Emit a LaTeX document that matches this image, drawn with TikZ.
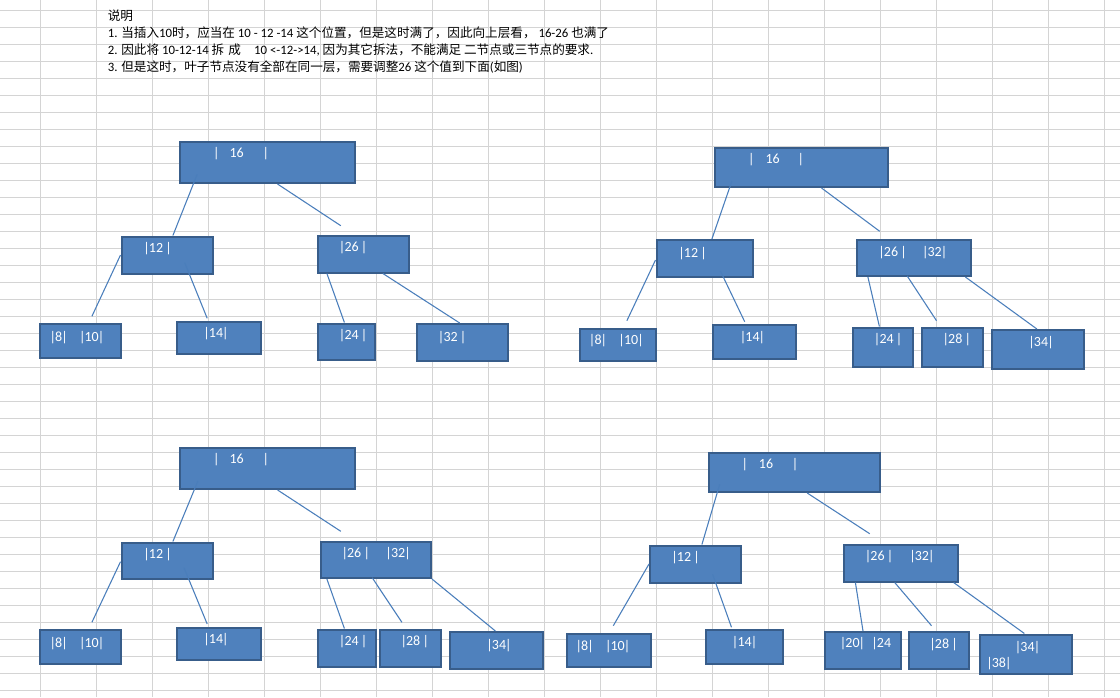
\documentclass[tikz,border=0pt]{standalone}
\usepackage{fontspec}
\setmainfont{Carlito}
\newfontfamily\zhfont[Scale=0.984]{Noto Sans CJK SC}
\newfontfamily\zhtitle{Noto Sans CJK SC}
\newcommand\zh[1]{{\zhfont #1}}
\newcommand\vb{\makebox[3.5pt]{|}}
\usetikzlibrary{calc,fit}
\definecolor{gridc}{HTML}{D4D4D4}
\definecolor{boxfill}{HTML}{4F81BD}
\definecolor{boxline}{HTML}{385D8A}
\definecolor{connc}{HTML}{4A7EBB}
\tikzset{
  box/.style={draw=boxline, fill=boxfill, line width=1.5pt, inner sep=0pt, rectangle},
  conn/.style={draw=connc, line width=0.8pt},
  gridline/.style={draw=gridc, line width=0.75pt},
  val/.style={anchor=base west, inner sep=0pt, text=white, font=\fontsize{10.5}{12}\selectfont},
  hdr/.style={anchor=base west, inner sep=0pt, text=black, font=\fontsize{9.6}{12}\selectfont},
}
\newcommand\conn[4]{\draw[conn] ($(#1)+(#2)$) -- ($(#3)+(#4)$);}
\begin{document}
\begin{tikzpicture}[x=0.75pt, y=-0.75pt]
\fill[white] (0,0) rectangle (1120,697);
\useasboundingbox (0,0) rectangle (1120,697);
% grid
\foreach \k in {0,...,19} \draw[gridline] (40.7+56*\k,0) -- (40.7+56*\k,697);
\foreach \k in {0,...,40} \draw[gridline] (0,10+17.02*\k) -- (1120,10+17.02*\k);

% header
\node[hdr] (h0) at (107.5,20.5) {\zhtitle\fontsize{9.5}{11}\selectfont 说明};
\node[hdr] (h1) at (107.5,37.5) {1. \zh{当插入}10\zh{时，应当在} 10 - 12 -14 \zh{这个位置，但是这时满了，因此向上层看，} 16-26 \zh{也满了}};
\node[hdr] (h2) at (107.5,54.5) {2. \zh{因此将} 10-12-14 \zh{拆}\hspace{3pt}\zh{成}\hspace{10pt}10 <-12->14, \zh{因为其它拆法，不能满足} \zh{二节点或三节点的要求}.};
\node[hdr] (h3) at (107.5,71.5) {3. \zh{但是这时，叶子节点没有全部在同一层，需要调整}26 \zh{这个值到下面}(\zh{如图})};

% ---------------- tree 1 (top left)
\node[box, fit={(179.5,141.5) (354.5,183)}] (t1r) {};
\node[box, fit={(121.5,236.5) (212.5,273.5)}] (t1a) {};
\node[box, fit={(317.5,235.5) (408.5,272.5)}] (t1b) {};
\node[box, fit={(40,324) (121,357.5)}] (t1c) {};
\node[box, fit={(176.5,321.5) (260.5,354)}] (t1d) {};
\node[box, fit={(317.5,323.5) (375,360)}] (t1e) {};
\node[box, fit={(416.5,324) (508,361)}] (t1f) {};
\conn{t1r.south west}{18.7,-9.7}{t1a.north west}{52.4,0}
\conn{t1r.south west}{99,0}{t1b.north west}{24.3,-8.8}
\conn{t1a.north west}{0,19.5}{t1c.north west}{52.9,-6.7}
\conn{t1a.south west}{64.2,-11.8}{t1d.north west}{31.7,-2.2}
\conn{t1b.south west}{10.4,0}{t1e.north west}{27.9,0}
\conn{t1b.south west}{66.4,0}{t1f.north west}{44.2,0}
\node[val] (v1r) at (213.65,157.8) {\vb\hspace{8.3pt}16\hspace{14.7pt}\vb};
\node[val] (v1a) at (144,252.8) {\vb12 \vb};
\node[val] (v1b) at (339.6,251.8) {\vb26 \vb};
\node[val] (v1c) at (50.2,341.8) {\vb8\vb\hspace{9.8pt}\vb10\vb};
\node[val] (v1d) at (204,337.8) {\vb14\vb};
\node[val] (v1e) at (339.6,339.5) {\vb24 \vb};
\node[val] (v1f) at (438.6,341.2) {\vb32 \vb};

% ---------------- tree 2 (top right)
\node[box, fit={(714.5,147.5) (888,187)}] (t2r) {};
\node[box, fit={(656.5,240) (753,277)}] (t2a) {};
\node[box, fit={(856.5,239.5) (971,276)}] (t2b) {};
\node[box, fit={(579.5,328.5) (656,361)}] (t2c) {};
\node[box, fit={(712.5,325) (795.5,358.5)}] (t2d) {};
\node[box, fit={(852.5,327.5) (913,366.5)}] (t2e) {};
\node[box, fit={(921.5,327.5) (982.5,366.5)}] (t2f) {};
\node[box, fit={(992,330) (1084,369)}] (t2g) {};
\conn{t2r.south west}{18.4,-7}{t2a.north west}{56.4,0}
\conn{t2r.south west}{108,0}{t2b.north west}{24.2,-7.2}
\conn{t2a.north west}{0,21}{t2c.north west}{48.4,-6.8}
\conn{t2a.south west}{64.9,-7}{t2d.north west}{33.2,-2.3}
\conn{t2b.south west}{12.4,0}{t2e.north west}{27.9,0}
\conn{t2b.south west}{51.7,-1}{t2f.north west}{16,-5.8}
\conn{t2b.south west}{109.9,0}{t2g.north west}{45.9,0}
\node[val] (v2r) at (748.65,163.8) {\vb\hspace{9pt}16\hspace{14pt}\vb};
\node[val] (v2a) at (679,257.2) {\vb12 \vb};
\node[val] (v2b) at (879,256.2) {\vb26 \vb\hspace{12.7pt}\vb32\vb};
\node[val] (v2c) at (589.6,344.5) {\vb8\vb\hspace{9.8pt}\vb10\vb};
\node[val] (v2d) at (740.5,341.8) {\vb14\vb};
\node[val] (v2e) at (874.6,343.8) {\vb24 \vb};
\node[val] (v2f) at (943.3,343.8) {\vb28 \vb};
\node[val] (v2g) at (1029,346.8) {\vb34\vb};

% ---------------- tree 3 (bottom left)
\node[box, fit={(179.5,447.5) (354.5,489)}] (t3r) {};
\node[box, fit={(121.5,542.5) (212.5,579)}] (t3a) {};
\node[box, fit={(320.5,541.5) (431,578)}] (t3b) {};
\node[box, fit={(40,630) (121,663.5)}] (t3c) {};
\node[box, fit={(176.5,627.5) (260.5,660)}] (t3d) {};
\node[box, fit={(317.5,629.5) (376,666.5)}] (t3e) {};
\node[box, fit={(379.5,629.5) (440.5,666.5)}] (t3f) {};
\node[box, fit={(450,632) (543,669)}] (t3g) {};
\conn{t3r.south west}{19.4,-9}{t3a.north west}{52.4,0}
\conn{t3r.south west}{99.1,0}{t3b.north west}{21.3,-9.2}
\conn{t3a.north west}{0,20.2}{t3c.north west}{52.9,-6.7}
\conn{t3a.south west}{63.5,-12.3}{t3d.north west}{31.7,-2.5}
\conn{t3b.south west}{7.4,0}{t3e.north west}{27.9,0}
\conn{t3b.south west}{52.7,-1.3}{t3f.north west}{23.4,-6.2}
\conn{t3b.south east}{0,0}{t3g.north west}{46.4,0}
\node[val] (v3r) at (213.65,463.8) {\vb\hspace{8.3pt}16\hspace{14.7pt}\vb};
\node[val] (v3a) at (144,558.5) {\vb12 \vb};
\node[val] (v3b) at (342.2,557.8) {\vb26 \vb\hspace{12.9pt}\vb32\vb};
\node[val] (v3c) at (50.2,647.8) {\vb8\vb\hspace{9.8pt}\vb10\vb};
\node[val] (v3d) at (204,643.8) {\vb14\vb};
\node[val] (v3e) at (339.6,645.8) {\vb24 \vb};
\node[val] (v3f) at (401.2,645.8) {\vb28 \vb};
\node[val] (v3g) at (487,649.2) {\vb34\vb};

% ---------------- tree 4 (bottom right)
\node[box, fit={(709,452.5) (879.5,492)}] (t4r) {};
\node[box, fit={(650,545.5) (740.5,582.5)}] (t4a) {};
\node[box, fit={(843.5,545) (958,581.5)}] (t4b) {};
\node[box, fit={(566.5,633.5) (650.5,666.5)}] (t4c) {};
\node[box, fit={(705.5,630) (782.5,663.5)}] (t4d) {};
\node[box, fit={(824.5,632) (900.5,669)}] (t4e) {};
\node[box, fit={(908.5,632) (969,669)}] (t4f) {};
\node[box, fit={(979.5,634.5) (1071.5,674)}] (t4g) {};
\conn{t4r.south west}{11.7,-8.7}{t4a.north west}{52.9,0}
\conn{t4r.south west}{99.2,0}{t4b.north west}{27.2,-10.3}
\conn{t4a.north west}{0,19.5}{t4c.north west}{47.8,-6.8}
\conn{t4a.south west}{63.6,-9.2}{t4d.north west}{27,-1.7}
\conn{t4b.south west}{12.9,0}{t4e.north west}{39.5,0}
\conn{t4b.south west}{52.2,0}{t4f.north west}{24,-5.3}
\conn{t4b.south west}{111.1,0}{t4g.north west}{45.9,0}
\node[val] (v4r) at (742.25,468.5) {\vb\hspace{8.8pt}16\hspace{14.8pt}\vb};
\node[val] (v4a) at (672,561.8) {\vb12 \vb};
\node[val] (v4b) at (865.5,560.5) {\vb26 \vb\hspace{13.3pt}\vb32\vb};
\node[val] (v4c) at (576.2,650.5) {\vb8\vb\hspace{9.8pt}\vb10\vb};
\node[val] (v4d) at (732.6,646.5) {\vb14\vb};
\node[val] (v4e) at (840.5,647.8) {\vb20\vb\hspace{6pt}\vb24};
\node[val] (v4f) at (930,648.5) {\vb28 \vb};
\node[val] (v4g) at (1015.5,651.5) {\vb34\vb};
\node[val] (v4h) at (986.9,667.5) {\vb38\vb};
\end{tikzpicture}
\end{document}
